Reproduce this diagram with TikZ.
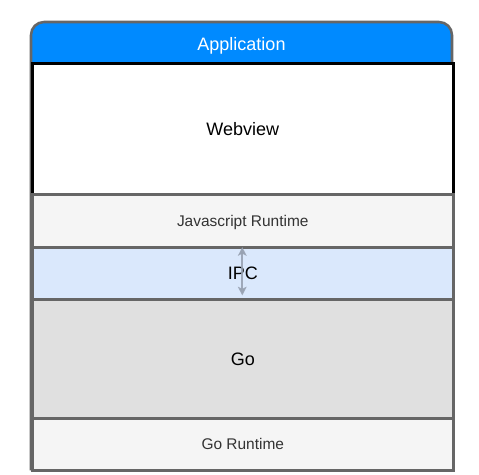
\documentclass[tikz,border=0pt]{standalone}
\usepackage{fontspec}
\setmainfont{Liberation Sans}
\usetikzlibrary{arrows.meta}
\definecolor{hdr}{HTML}{008AFF}
\definecolor{edge}{HTML}{666666}
\definecolor{lightfill}{HTML}{F5F5F5}
\definecolor{ipcfill}{HTML}{DAE8FC}
\definecolor{gofill}{HTML}{E0E0E0}
\definecolor{darktext}{HTML}{333333}
\definecolor{arrowcol}{HTML}{98A2B2}
\tikzset{
  layer/.style={draw=edge, line width=1.9pt, inner sep=0pt, anchor=north west, text depth=0pt,
    minimum width=315.75pt, text=darktext, font=\fontsize{11.6pt}{13pt}\selectfont},
  bigtext/.style={text=black, font=\fontsize{13.5pt}{16pt}\selectfont},
}
\begin{document}
\begin{tikzpicture}[x=0.75pt,y=-0.75pt]
\useasboundingbox (0,0) rectangle (479,475);
% container header fill
\fill[hdr] (31,62) [rounded corners=9.75pt] -- (31,22) -- (452,22) [sharp corners] -- (452,62) -- cycle;
% container outline
\draw[edge, line width=1.9pt] (31,469) [rounded corners=9.75pt] -- (31,22) -- (452,22) [sharp corners] -- (452,469) -- cycle;
\node[text=white, text depth=0pt, font=\fontsize{13.5pt}{16pt}\selectfont] (app) at (241.5,43.5) {Application};
% layers
\node[layer, bigtext, draw=black, fill=white, minimum height=98.25pt] (webview) at (31,62) {Webview};
\node[layer, fill=lightfill, minimum height=39.75pt] (js) at (31,193) {Javascript Runtime};
\node[layer, bigtext, fill=ipcfill, minimum height=39pt] (ipc) at (31,246) {IPC};
\node[layer, bigtext, fill=gofill, minimum height=89.25pt] (go) at (31,298) {Go};
\node[layer, fill=lightfill, minimum height=39pt] (gort) at (31,417) {Go Runtime};
% IPC arrow
\draw[arrowcol, opacity=0.9, line width=1.2pt, {Stealth[length=6.5pt,width=6.5pt,inset=1.5pt]}-{Stealth[length=6.5pt,width=6.5pt,inset=1.5pt]}, shorten <=0.8pt, shorten >=3.8pt]
  ([xshift=-0.375pt]ipc.north) -- ([xshift=-0.375pt]ipc.south);
\end{tikzpicture}
\end{document}
